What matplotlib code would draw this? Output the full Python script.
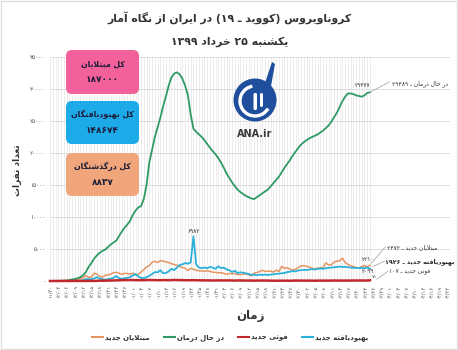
import re
import matplotlib
matplotlib.use('Agg')
import matplotlib.pyplot as plt
import matplotlib.patches as mpatches
from matplotlib.lines import Line2D

plt.rcParams['font.family'] = ['DejaVu Sans']

# ── Data (one value per day from 1398/11/30) ──────────────────────────────────
in_treatment = [
    2, 5, 18, 28, 43, 61, 95, 139, 245, 300,
    430, 600, 900, 1400, 2200, 2800, 3500, 4000, 4400, 4700,
    4900, 5300, 5700, 6000, 6300, 7000, 7700, 8300, 8800, 9400,
    10300, 11000, 11500, 11700, 12800, 15000, 18500, 20500, 22500, 24000,
    25500, 27300, 28800, 30500, 31800, 32400, 32600, 32300, 31600, 30500,
    29000, 26000, 23800, 23300, 22900, 22500, 22000, 21400, 20800, 20300,
    19800, 19200, 18500, 17700, 16800, 16100, 15400, 14800, 14300, 13900,
    13600, 13300, 13100, 12900, 12800, 13100, 13400, 13700, 14000, 14300,
    14800, 15300, 15800, 16300, 17000, 17700, 18300, 18900, 19600, 20200,
    20800, 21300, 21700, 22000, 22300, 22500, 22700, 22900, 23200, 23500,
    23900, 24300, 24900, 25600, 26300, 27200, 28100, 28800, 29300, 29300,
    29200, 29000, 28900, 28800, 29000, 29377, 29489,
]
new_cases = [
    2, 3, 13, 10, 15, 18, 34, 44, 106, 143,
    205, 385, 523, 835, 586, 591, 1234, 1076, 743, 595,
    881, 958, 1075, 1289, 1365, 1209, 1053, 1178, 1192, 1046,
    1237, 966, 1028, 1411, 1762, 2206, 2389, 2926, 3076, 2901,
    3186, 3110, 2987, 2875, 2715, 2560, 2483, 2274, 2089, 1997,
    1634, 1972, 1837, 1657, 1617, 1574, 1512, 1606, 1499, 1374,
    1343, 1294, 1297, 1194, 1030, 1168, 1134, 1153, 1006, 991,
    1073, 1075, 976, 802, 1223, 1323, 1481, 1680, 1485, 1529,
    1556, 1383, 1683, 1481, 2294, 1958, 2102, 1806, 1757, 1806,
    2111, 2346, 2392, 2311, 2180, 2011, 1869, 2023, 2073, 2080,
    2819, 2516, 2516, 2979, 3117, 3134, 3574, 2886, 2596, 2364,
    2269, 2095, 2011, 2238, 2410, 2210, 2472,
]
new_recovered = [
    0, 0, 0, 0, 0, 0, 0, 0, 0, 0,
    0, 50, 120, 300, 290, 260, 400, 600, 380, 270,
    200, 280, 350, 500, 780, 450, 350, 420, 500, 600,
    850, 1100, 700, 500, 450, 600, 800, 1100, 1400, 1350,
    1700, 1200, 1250, 1500, 1900, 1700, 2100, 2500, 2600, 2800,
    2700, 2900, 6982, 2600, 2100, 2000, 2100, 2000, 2200, 2100,
    1900, 2300, 2000, 2100, 1800, 1700, 1400, 1600, 1250, 1350,
    1300, 1200, 1100, 950, 1000, 900, 1000, 950, 1000, 950,
    1000, 1050, 1100, 1150, 1200, 1250, 1400, 1450, 1550, 1500,
    1650, 1700, 1750, 1700, 1800, 1850, 1800, 1900, 1950, 1900,
    2000, 2050, 2100, 2150, 2200, 2250, 2200, 2200, 2150, 2100,
    2050, 2050, 2000, 2050, 2000, 2099, 1926,
]
new_deaths = [
    2, 0, 2, 0, 4, 4, 3, 3, 7, 8,
    9, 11, 12, 11, 15, 15, 17, 21, 49, 43,
    54, 63, 75, 85, 97, 113, 129, 135, 147, 149,
    149, 123, 129, 127, 122, 143, 157, 144, 139, 123,
    117, 141, 138, 124, 134, 158, 151, 136, 133, 121,
    117, 122, 125, 117, 111, 98, 94, 92, 89, 73,
    87, 88, 94, 88, 90, 93, 76, 60, 96, 71,
    80, 71, 63, 74, 47, 74, 63, 78, 68, 65,
    55, 45, 48, 45, 50, 48, 48, 35, 51, 69,
    62, 66, 56, 51, 59, 58, 34, 57, 63, 50,
    56, 63, 57, 81, 64, 70, 59, 63, 70, 72,
    81, 75, 74, 78, 75, 71, 107,
]
n_axis_days = 145
y_ticks = [0, 5000, 10000, 15000, 20000, 25000, 30000, 35000]

total_cases = '۱۸۷۰۰۰'
total_recovered = '۱۴۸۶۷۴'
total_deaths = '۸۸۳۷'

# ── Minimal Persian shaping + RTL ordering (no arabic_reshaper available) ─────
FORMS = {
    'ا': ('\uFE8D', '\uFE8E'), 'آ': ('\uFE81', '\uFE82'),
    'د': ('\uFEA9', '\uFEAA'), 'ذ': ('\uFEAB', '\uFEAC'),
    'ر': ('\uFEAD', '\uFEAE'), 'ز': ('\uFEAF', '\uFEB0'),
    'ژ': ('\uFB8A', '\uFB8B'), 'و': ('\uFEED', '\uFEEE'),
    'ب': ('\uFE8F', '\uFE90', '\uFE91', '\uFE92'),
    'پ': ('\uFB56', '\uFB57', '\uFB58', '\uFB59'),
    'ت': ('\uFE95', '\uFE96', '\uFE97', '\uFE98'),
    'ث': ('\uFE99', '\uFE9A', '\uFE9B', '\uFE9C'),
    'ج': ('\uFE9D', '\uFE9E', '\uFE9F', '\uFEA0'),
    'چ': ('\uFB7A', '\uFB7B', '\uFB7C', '\uFB7D'),
    'ح': ('\uFEA1', '\uFEA2', '\uFEA3', '\uFEA4'),
    'خ': ('\uFEA5', '\uFEA6', '\uFEA7', '\uFEA8'),
    'س': ('\uFEB1', '\uFEB2', '\uFEB3', '\uFEB4'),
    'ش': ('\uFEB5', '\uFEB6', '\uFEB7', '\uFEB8'),
    'ع': ('\uFEC9', '\uFECA', '\uFECB', '\uFECC'),
    'ف': ('\uFED1', '\uFED2', '\uFED3', '\uFED4'),
    'ق': ('\uFED5', '\uFED6', '\uFED7', '\uFED8'),
    'ک': ('\uFB8E', '\uFB8F', '\uFB90', '\uFB91'),
    'گ': ('\uFB92', '\uFB93', '\uFB94', '\uFB95'),
    'ل': ('\uFEDD', '\uFEDE', '\uFEDF', '\uFEE0'),
    'م': ('\uFEE1', '\uFEE2', '\uFEE3', '\uFEE4'),
    'ن': ('\uFEE5', '\uFEE6', '\uFEE7', '\uFEE8'),
    'ه': ('\uFEE9', '\uFEEA', '\uFEEB', '\uFEEC'),
    'ی': ('\uFBFC', '\uFBFD', '\uFBFE', '\uFBFF'),
}
LAM_ALEF = {'ا': ('\uFEFB', '\uFEFC'), 'آ': ('\uFEF5', '\uFEF6')}
DIGITS = '۰۱۲۳۴۵۶۷۸۹0123456789'


def shape(s):
    out, i = [], 0
    while i < len(s):
        ch = s[i]
        f = FORMS.get(ch)
        if f is None:
            out.append(ch)
            i += 1
            continue
        prev = s[i - 1] if i > 0 else ''
        p = prev in FORMS and len(FORMS[prev]) == 4
        if ch == 'ل' and i + 1 < len(s) and s[i + 1] in LAM_ALEF:
            lig = LAM_ALEF[s[i + 1]]
            out.append(lig[1] if p else lig[0])
            i += 2
            continue
        nxt = s[i + 1] if i + 1 < len(s) else ''
        q = len(f) == 4 and nxt in FORMS
        out.append(f[3] if p and q else f[1] if p else f[2] if q else f[0])
        i += 1
    return ''.join(out)


def fa(s):
    runs = re.findall(r'[%s][%s/.,]*|[^%s]+' % (DIGITS, DIGITS, DIGITS), shape(s))
    vis = []
    for r in reversed(runs):
        if r[0] in DIGITS:
            vis.append(r)
        else:
            vis.append(''.join({'(': ')', ')': '('}.get(c, c) for c in reversed(r)))
    return ''.join(vis)


def fa_num(s):
    return str(s).translate(str.maketrans('0123456789', '۰۱۲۳۴۵۶۷۸۹'))


def jalali_label(k):
    y, m, d = 1398, 11, 30
    for _ in range(k):
        mlen = 31 if m <= 6 else (30 if m < 12 else (29 if y == 1398 else 30))
        d += 1
        if d > mlen:
            d, m = 1, m + 1
            if m > 12:
                m, y = 1, y + 1
    return fa_num(f'{m:02d}/{d:02d}')


# ── Figure ─────────────────────────────────────────────────────────────────────
W, H = 458, 350
fig = plt.figure(figsize=(W / 100, H / 100), dpi=100)
fig.patch.set_facecolor('white')
ax = fig.add_axes([50 / W, 1 - 281 / H, 400 / W, 224 / H])

days = list(range(len(in_treatment)))
GREEN, ORANGE, BLUE, RED = '#2f9a64', '#e59561', '#2bb0d9', '#c0282d'

ax.vlines(days, 0, 35000, color='#e2e2e2', lw=0.45, zorder=0)
ax.set_axisbelow(True)
ax.yaxis.grid(True, color='#d8d8d8', lw=0.6)

ax.plot(days, new_cases, color=ORANGE, lw=1.1, zorder=3)
ax.plot(days, in_treatment, color=GREEN, lw=1.3, zorder=4)
ax.plot(days, new_deaths, color=RED, lw=1.8, zorder=5, clip_on=False)
ax.plot(days, new_recovered, color=BLUE, lw=1.3, zorder=4)

ax.set_xlim(0, n_axis_days)
ax.set_ylim(0, 35000)
for s in ax.spines.values():
    s.set_visible(False)

tick_days = list(range(0, n_axis_days, 3))
ax.set_xticks(tick_days)
ax.set_xticklabels([jalali_label(k) for k in tick_days], rotation=90,
                   fontsize=3.8, color='#555555')
ax.set_yticks(y_ticks)
ax.set_yticklabels([fa_num(v) for v in y_ticks], fontsize=4.2, color='#555555')
ax.tick_params(length=0, pad=3)

# value labels
lab = dict(fontsize=4.2, color='#333333', zorder=6)
ax.text(52.2, 7300, fa_num(6982), ha='center', va='bottom', **lab)
ax.text(113.4, 30100, fa_num(29377), ha='center', va='bottom', **lab)
ax.text(115.2, 3000, fa_num(2210), ha='center', va='bottom', **lab)
ax.text(115.2, 1500, fa_num(2099), ha='center', va='center', **lab)
ax.text(117.5, 250, fa_num(71), ha='center', va='bottom', fontsize=3.6,
        color='#333333', zorder=6)

lead = dict(color='#aaaaaa', lw=0.6, clip_on=False, zorder=6)
ax.plot([116, 123], [in_treatment[-1], 31100], **lead)
ax.plot([116.5, 121.5], [new_cases[-1] + 300, 5300], **lead)
ax.plot([117, 121.2], [new_recovered[-1] + 300, 3100], **lead)
ax.plot([118.5, 122.5], [300, 1500], **lead)

ax.text(124, 30900, fa('در حال درمان ـ ' + fa_num(in_treatment[-1])),
        ha='left', va='center', fontsize=4.3, color='#333333')
ax.text(122, 5300, fa('مبتلایان جدید ـ ' + fa_num(new_cases[-1])),
        ha='left', va='center', fontsize=4.3, color='#333333')
ax.text(121.6, 3100, fa('بهبودیافته جدید ـ ' + fa_num(new_recovered[-1])),
        ha='left', va='center', fontsize=4.5, color='#222222', fontweight='bold')
ax.text(123, 1500, fa('فوتی جدید ـ ' + fa_num(new_deaths[-1])),
        ha='left', va='center', fontsize=4.3, color='#333333')

# ── Titles & axis labels ──────────────────────────────────────────────────────
fig.text(230 / W, 1 - 18 / H, fa('کروناویروس (کووید ـ ۱۹) در ایران از نگاه آمار'),
         ha='center', va='center', fontsize=7.8, fontweight='bold', color='#333333')
fig.text(230 / W, 1 - 42 / H, fa('یکشنبه ۲۵ خرداد ۱۳۹۹'),
         ha='center', va='center', fontsize=7.8, fontweight='bold', color='#333333')
fig.text(17 / W, 1 - 170 / H, fa('تعداد نفرات'), rotation=90,
         ha='center', va='center', fontsize=6.5, fontweight='bold', color='#333333')
fig.text(250 / W, 1 - 316 / H, fa('زمان'), ha='center', va='center',
         fontsize=8.5, fontweight='bold', color='#333333')

# ── Info boxes ────────────────────────────────────────────────────────────────
boxes = [
    ('کل مبتلایان', total_cases, '#f2619a', 50, 94),
    ('کل بهبودیافتگان', total_recovered, '#1daae8', 101, 144),
    ('کل درگذشتگان', total_deaths, '#f0a67a', 153, 196),
]
for title, value, col, top, bot in boxes:
    box = mpatches.FancyBboxPatch((66 / 100, (H - bot) / 100), 73 / 100, (bot - top) / 100,
                                  boxstyle='round,pad=0,rounding_size=0.06',
                                  transform=fig.dpi_scale_trans, fc=col, ec='none')
    fig.patches.append(box)
    mid = (top + bot) / 2
    fig.text(102.5 / W, 1 - (mid - 8) / H, fa(title), ha='center', va='center',
             fontsize=5.6, fontweight='bold', color='#1b1b38')
    fig.text(102.5 / W, 1 - (mid + 8) / H, value, ha='center', va='center',
             fontsize=6.5, fontweight='bold', color='#1b1b38')

# ── ANA logo ──────────────────────────────────────────────────────────────────
LOGO = '#1f4f9c'
cx, cy = 2.55, (H - 100) / 100
fig.patches.append(mpatches.Circle((cx, cy), 0.215, transform=fig.dpi_scale_trans,
                                   fc=LOGO, ec='none'))
fig.patches.append(mpatches.Polygon([(cx + 0.10, cy + 0.17), (cx + 0.17, cy + 0.38),
                                     (cx + 0.20, cy + 0.36), (cx + 0.16, cy + 0.14)],
                                    transform=fig.dpi_scale_trans, fc=LOGO, ec='none'))
fig.patches.append(mpatches.Arc((cx, cy - 0.01), 0.30, 0.30, theta1=100, theta2=330,
                                transform=fig.dpi_scale_trans, color='white', lw=2.4))
fig.patches.append(mpatches.FancyBboxPatch((cx - 0.015, cy - 0.10), 0.035, 0.17,
                                           boxstyle='round,pad=0,rounding_size=0.015',
                                           transform=fig.dpi_scale_trans, fc='white', ec='none'))
fig.patches.append(mpatches.FancyBboxPatch((cx + 0.05, cy - 0.07), 0.03, 0.14,
                                           boxstyle='round,pad=0,rounding_size=0.015',
                                           transform=fig.dpi_scale_trans, fc='white', ec='none'))
fig.text(255 / W, 1 - 134 / H, 'ANA.ir', ha='center', va='center',
         fontsize=7, fontweight='bold', color='#3a3a3a')

# ── Legend ────────────────────────────────────────────────────────────────────
handles = [Line2D([], [], color=ORANGE, lw=1.5), Line2D([], [], color=GREEN, lw=1.5),
           Line2D([], [], color=RED, lw=1.5), Line2D([], [], color=BLUE, lw=1.5)]
labels = [fa('مبتلایان جدید'), fa('در حال درمان'), fa('فوتی جدید'), fa('بهبودیافته جدید')]
fig.legend(handles, labels, loc='center', bbox_to_anchor=(230 / W, 1 - 338 / H), ncol=4,
           frameon=False, prop={'size': 5.0, 'weight': 'bold'}, handlelength=1.6,
           handletextpad=0.3, columnspacing=2.0, labelcolor='#333333')

fig.patches.append(mpatches.Rectangle((0.002, 0.002), 0.996, 0.996, transform=fig.transFigure,
                                      fill=False, ec='#dddddd', lw=1))

fig.savefig('out.png', dpi=100)
